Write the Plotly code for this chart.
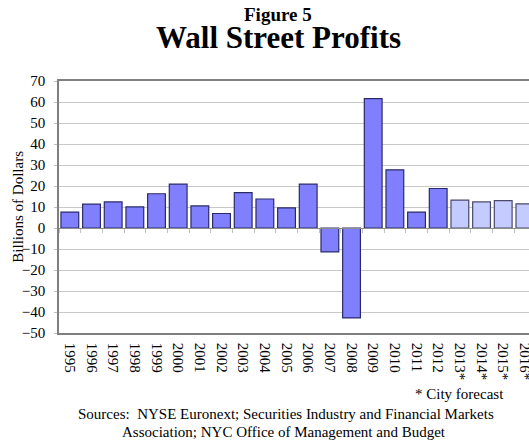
import plotly.graph_objects as go

years = ["1995", "1996", "1997", "1998", "1999", "2000", "2001", "2002", "2003", "2004",
         "2005", "2006", "2007", "2008", "2009", "2010", "2011", "2012",
         "2013*", "2014*", "2015*", "2016*"]
profits = [7.6, 11.4, 12.4, 10.1, 16.3, 20.9, 10.5, 6.9, 16.8, 13.8,
           9.6, 20.9, -11.4, -42.8, 61.6, 27.7, 7.6, 18.8,
           13.3, 12.4, 13.0, 11.5]
forecast = [False] * 18 + [True] * 4

y_ticks = [-50, -40, -30, -20, -10, 0, 10, 20, 30, 40, 50, 60, 70]

fill = ["#C4CBFF" if f else "#8080FF" for f in forecast]
edge = ["#4A4A6A" if f else "#2A2A6A" for f in forecast]

FONT = "Liberation Serif"

fig = go.Figure()
fig.add_trace(go.Bar(
    x=years, y=profits,
    marker=dict(color=fill, line=dict(color=edge, width=1.2)),
    width=0.82,
    showlegend=False,
    hoverinfo="x+y",
))

n = len(years)
x_range = [-0.5, 21.19]

fig.update_layout(
    width=529, height=440,
    margin=dict(l=58.6, r=0, t=81, b=106.5, autoexpand=False),
    paper_bgcolor="white", plot_bgcolor="white",
    font=dict(family=FONT, size=15, color="black"),
    xaxis=dict(
        type="category", range=x_range, automargin=False,
        tickangle=90, ticks="", showgrid=False,
        showline=True, linecolor="#7F7F7F", linewidth=1.5,
        mirror=True, ticklabelstandoff=5,
        tickfont=dict(family=FONT, size=15),
        zeroline=False,
    ),
    xaxis2=dict(
        overlaying="x", anchor="free", automargin=False,
        position=(0 - y_ticks[0]) / (y_ticks[-1] - y_ticks[0]),
        range=x_range,
        tickvals=[i + 0.5 for i in range(-1, n)],
        showticklabels=False,
        ticks="outside", ticklen=4, tickcolor="#BFBFBF", tickwidth=1,
        showline=True, linecolor="#8C8C8C", linewidth=1.2,
        showgrid=False, zeroline=False,
    ),
    yaxis=dict(
        range=[y_ticks[0], y_ticks[-1]], automargin=False,
        tickvals=y_ticks,
        ticks="outside", ticklen=3, tickcolor="#BFBFBF",
        showgrid=True, gridcolor="#C8C8C8", gridwidth=1,
        zeroline=False, ticklabelstandoff=6,
        showline=True, linecolor="#7F7F7F", linewidth=1.5,
        tickfont=dict(family=FONT, size=15),
    ),
    bargap=0.18,
)

# invisible helper trace so that the zero-line tick axis is drawn
fig.add_trace(go.Scatter(x=[0], y=[0], xaxis="x2", mode="markers",
                         marker=dict(opacity=0), showlegend=False, hoverinfo="skip"))

annos = [
    dict(text="<b>Figure 5</b>", x=0.4664, y=1.265, size=19),
    dict(text="<b>Wall Street Profits</b>", x=0.4664, y=1.172, size=31),
    dict(text="Sources:  NYSE Euronext; Securities Industry and Financial Markets", x=0.482, y=-0.3228, size=15),
    dict(text="Association; NYC Office of Management and Budget", x=0.478, y=-0.394, size=15),
]
for a in annos:
    fig.add_annotation(text=a["text"], x=a["x"], y=a["y"], xref="paper", yref="paper",
                       showarrow=False, xanchor="center", yanchor="middle",
                       font=dict(family=FONT, size=a["size"], color="black"))
fig.add_annotation(text="* City forecast", x=0.95, y=-0.2436, xref="paper", yref="paper",
                   showarrow=False, xanchor="right", yanchor="middle",
                   font=dict(family=FONT, size=15, color="black"))
fig.add_annotation(text="Billions of Dollars", x=-0.088, y=0.5, xref="paper", yref="paper",
                   showarrow=False, xanchor="center", yanchor="middle", textangle=-90,
                   font=dict(family=FONT, size=15, color="black"))

fig.write_html("out.html", config={"displayModeBar": False},
               post_script="document.body.style.margin='0';document.body.style.overflow='hidden';")
